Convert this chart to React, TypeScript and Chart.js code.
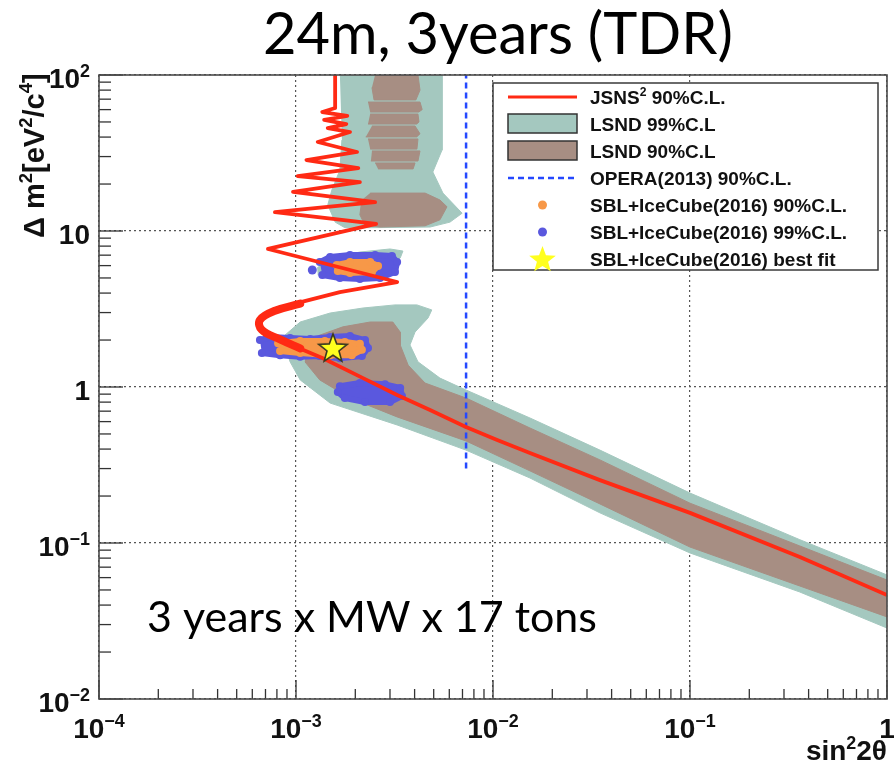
import { useEffect, useRef } from 'react';
import { Chart, registerables } from 'chart.js';

Chart.register(...registerables);

type Pt = [number, number];

// ---------- text ----------
const TITLE = '24m, 3years (TDR)';
const ANNOTATION = '3 years x MW x 17 tons';
const X_AXIS_TITLE = 'sin^{2}2θ';
const Y_AXIS_TITLE = 'Δ m^{2}[eV^{2}/c^{4}]';
const LEGEND_LABELS = [
  'JSNS^{2} 90%C.L.',
  'LSND 99%C.L',
  'LSND 90%C.L',
  'OPERA(2013) 90%C.L.',
  'SBL+IceCube(2016) 90%C.L.',
  'SBL+IceCube(2016) 99%C.L.',
  'SBL+IceCube(2016) best fit',
];

// ---------- axes ----------
const X_RANGE = [1e-4, 1];
const Y_RANGE = [1e-2, 1e2];
const X_DECADES = [1e-4, 1e-3, 1e-2, 1e-1, 1];
const Y_DECADES = [1e-2, 1e-1, 1, 10, 100];
const X_TICK_LABELS = ['10^{−4}', '10^{−3}', '10^{−2}', '10^{−1}', '1'];
const Y_TICK_LABELS = ['10^{−2}', '10^{−1}', '1', '10', '10^{2}'];
const MINOR_MULTIPLIERS = [2, 3, 4, 5, 6, 7, 8, 9];

// ---------- data: [sin^2 2θ, Δm^2] ----------
const JSNS2_90CL: Pt[] = [
  [1.58e-3, 100], [1.58e-3, 61.4], [1.36e-3, 57.9], [1.82e-3, 54.6], [1.39e-3, 51.5],
  [1.8e-3, 48.5], [1.45e-3, 45.7], [1.88e-3, 43.1], [1.29e-3, 37.2], [2.04e-3, 32.1],
  [1.13e-3, 28.5], [2.07e-3, 25.3], [1.02e-3, 22.5], [2.11e-3, 20.6], [9.66e-4, 17.8],
  [2.52e-3, 15.3], [7.82e-4, 13.2], [2.55e-3, 11.1], [7.21e-4, 7.67], [3.26e-3, 4.71],
  [1.67e-3, 4.06], [1.01e-3, 3.45], [7.38e-4, 3.03], [6.41e-4, 2.69], [6.56e-4, 2.32],
  [7.82e-4, 2.06], [1.01e-3, 1.8], [1.37e-3, 1.53], [2.19e-3, 1.14], [3.26e-3, 0.889],
  [4.79e-3, 0.712], [7.29e-3, 0.554], [1.05e-2, 0.457], [1.54e-2, 0.377], [3.49e-2, 0.253],
  [0.1, 0.156], [0.361, 0.0812], [1.0, 0.0464],
];
const JSNS2_BEND: Pt[] = [
  [1.05e-3, 3.42], [7.82e-4, 3.08], [6.56e-4, 2.69], [6.71e-4, 2.32], [8.3e-4, 2.02], [1.05e-3, 1.77],
];

const LSND99_UPPER: Pt[] = [
  [1.67e-3, 100], [5.51e-3, 100], [5.51e-3, 33.0], [4.95e-3, 23.9], [5.57e-3, 17.5],
  [6.97e-3, 13.0], [6.05e-3, 11.4], [4.79e-3, 10.6], [2.43e-3, 10.5], [1.77e-3, 10.5],
  [1.58e-3, 11.4], [1.45e-3, 14.7], [1.52e-3, 18.3], [1.67e-3, 24.6], [1.71e-3, 38.3],
];
const LSND99_MIDDLE: Pt[] = [
  [1.28e-3, 5.79], [1.49e-3, 6.71], [2.11e-3, 7.33], [3.0e-3, 7.67], [3.49e-3, 7.44],
  [3.38e-3, 6.71], [2.83e-3, 5.97], [2.11e-3, 5.38], [1.58e-3, 5.07], [1.29e-3, 5.22],
];
const LSND99_LOWER: Pt[] = [
  [8.79e-4, 2.15], [1.05e-3, 2.61], [1.49e-3, 2.98], [2.19e-3, 3.21], [3.18e-3, 3.36],
  [4.11e-3, 3.36], [4.89e-3, 3.12], [4.68e-3, 2.77], [4.02e-3, 2.25], [3.79e-3, 1.86],
  [4.16e-3, 1.45], [5.38e-3, 1.14], [7.29e-3, 0.957], [1.54e-2, 0.633], [3.49e-2, 0.394],
  [0.1, 0.209], [0.361, 0.105], [1.0, 0.0624], [1.0, 0.0285], [0.361, 0.0485],
  [0.1, 0.0863], [3.49e-2, 0.156], [1.54e-2, 0.261], [7.29e-3, 0.394], [3.26e-3, 0.571],
  [1.49e-3, 0.789], [1.05e-3, 1.11], [9.33e-4, 1.45], [8.79e-4, 1.86],
];

const LSND90_UPPER_STRIPES: Pt[][] = [
  [[2.52e-3, 100], [4.16e-3, 100], [4.26e-3, 80], [4.06e-3, 69.2], [2.49e-3, 69.2], [2.43e-3, 83]],
  [[2.32e-3, 67.1], [4.26e-3, 67.1], [4.37e-3, 60], [4.2e-3, 57.9], [2.38e-3, 57.9]],
  [[2.38e-3, 56.2], [4.16e-3, 56.2], [4.21e-3, 50], [4.1e-3, 48.5], [2.32e-3, 48.5]],
  [[2.43e-3, 47.1], [4.02e-3, 47.1], [4.26e-3, 42], [4.1e-3, 40.1], [2.26e-3, 40.1]],
  [[2.32e-3, 38.9], [4.16e-3, 38.9], [4.11e-3, 33.5], [2.38e-3, 33.5]],
  [[2.43e-3, 32.6], [4.26e-3, 32.6], [4.16e-3, 28.1], [2.4e-3, 28.1]],
  [[2.52e-3, 27.3], [4.02e-3, 27.3], [3.93e-3, 25.0], [2.61e-3, 25.0]],
];
const LSND90_UPPER_BLOB: Pt[] = [
  [2.38e-3, 17.5], [4.52e-3, 17.5], [5.38e-3, 15.8], [5.84e-3, 14.3], [5.38e-3, 11.8],
  [4.52e-3, 10.8], [2.67e-3, 10.6], [2.24e-3, 10.9], [2.11e-3, 12.7], [2.16e-3, 15.8],
];
const LSND90_LOWER: Pt[] = [
  [1.11e-3, 1.86], [1.32e-3, 2.15], [1.73e-3, 2.43], [2.38e-3, 2.61], [3.1e-3, 2.61],
  [3.38e-3, 2.25], [3.38e-3, 1.86], [3.71e-3, 1.38], [4.52e-3, 1.06], [7.29e-3, 0.85],
  [1.54e-2, 0.546], [3.49e-2, 0.341], [0.1, 0.18], [0.361, 0.0957], [1.0, 0.0579],
  [1.0, 0.0336], [0.361, 0.053], [0.1, 0.0942], [3.49e-2, 0.178], [1.54e-2, 0.29],
  [7.29e-3, 0.451], [3.26e-3, 0.643], [1.88e-3, 0.85], [1.32e-3, 1.11], [1.11e-3, 1.45],
];

const OPERA_2013: Pt[] = [[7.3e-3, 0.3], [7.3e-3, 100]];

const SBL99_MIDDLE: Pt[] = [
  [1.32e-3, 6.32], [1.49e-3, 6.81], [1.88e-3, 7.01], [2.52e-3, 7.01], [3.07e-3, 6.91],
  [3.26e-3, 6.32], [3.18e-3, 5.46], [2.67e-3, 5.0], [2.11e-3, 4.92], [1.67e-3, 5.0], [1.36e-3, 5.22],
];
const SBL99_ISOLATED: Pt[] = [[1.21e-3, 5.62]];
const SBL99_LOWER: Pt[] = [
  [6.56e-4, 2.0], [7.38e-4, 2.09], [9.33e-4, 2.06], [1.18e-3, 2.03], [1.49e-3, 2.09],
  [1.88e-3, 2.12], [2.24e-3, 2.0], [2.32e-3, 1.78], [2.16e-3, 1.58], [1.67e-3, 1.53],
  [1.32e-3, 1.58], [1.05e-3, 1.56], [8.3e-4, 1.6], [6.71e-4, 1.65],
];
const SBL99_UNIT: Pt[] = [
  [1.67e-3, 1.01], [2.11e-3, 1.06], [2.83e-3, 1.04], [3.38e-3, 0.986], [3.45e-3, 0.876],
  [3.0e-3, 0.801], [2.24e-3, 0.801], [1.77e-3, 0.85], [1.63e-3, 0.929],
];
const SBL90_MIDDLE: Pt[] = [
  [1.61e-3, 6.05], [1.88e-3, 6.32], [2.38e-3, 6.32], [2.61e-3, 5.97], [2.43e-3, 5.46],
  [1.88e-3, 5.38], [1.63e-3, 5.54],
];
const SBL90_LOWER: Pt[] = [
  [8.11e-4, 1.91], [1.05e-3, 1.97], [1.4e-3, 1.97], [1.77e-3, 1.94], [2.11e-3, 1.89],
  [2.16e-3, 1.73], [1.92e-3, 1.6], [1.49e-3, 1.6], [1.05e-3, 1.65], [8.3e-4, 1.7],
];
const BEST_FIT: Pt[] = [[1.54e-3, 1.78]];

// ---------- styles ----------
const RED = '#ff2a14';
const GREEN = '#a4c8bf';
const BROWN = '#a78e83';
const BLUE_DOT = '#5a58de';
const ORANGE_DOT = '#f79848';
const OPERA_BLUE = '#2448ff';
const STAR_YELLOW = '#ffff1e';
const TICK_FONT = '"Liberation Sans", Arial, Helvetica, sans-serif';
const SLIDE_FONT = 'Lato, "Open Sans", sans-serif';

const toXY = (pts: Pt[]) => pts.map(([x, y]) => ({ x, y }));

function parseParts(s: string): [string, boolean][] {
  const out: [string, boolean][] = [];
  const re = /\^\{([^}]*)\}|\^(.)|([^^]+)/g;
  let m: RegExpExecArray | null;
  while ((m = re.exec(s))) {
    if (m[1] !== undefined) out.push([m[1], true]);
    else if (m[2] !== undefined) out.push([m[2], true]);
    else out.push([m[3], false]);
  }
  return out;
}

function partsWidth(ctx: CanvasRenderingContext2D, s: string, size: number, weight = 'bold') {
  let w = 0;
  for (const [t, sup] of parseParts(s)) {
    ctx.font = `${weight} ${sup ? size * 0.64 : size}px ${TICK_FONT}`;
    w += ctx.measureText(t).width;
  }
  return w;
}

function drawParts(ctx: CanvasRenderingContext2D, s: string, x: number, y: number, size: number, weight = 'bold') {
  let cx = x;
  ctx.textAlign = 'left';
  ctx.textBaseline = 'alphabetic';
  for (const [t, sup] of parseParts(s)) {
    ctx.font = `${weight} ${sup ? size * 0.64 : size}px ${TICK_FONT}`;
    ctx.fillText(t, cx, sup ? y - size * 0.4 : y);
    cx += ctx.measureText(t).width;
  }
}

function fitText(ctx: CanvasRenderingContext2D, text: string, x0: number, x1: number, baseline: number) {
  ctx.font = `normal 100px ${SLIDE_FONT}`;
  const w = ctx.measureText(text).width;
  const size = (100 * (x1 - x0)) / w;
  ctx.font = `normal ${size}px ${SLIDE_FONT}`;
  ctx.textAlign = 'left';
  ctx.textBaseline = 'alphabetic';
  ctx.fillStyle = '#000';
  ctx.fillText(text, x0, baseline);
}

function starPath(ctx: CanvasRenderingContext2D, cx: number, cy: number, r: number) {
  ctx.beginPath();
  for (let i = 0; i < 10; i++) {
    const a = -Math.PI / 2 + (i * Math.PI) / 5;
    const rr = i % 2 ? r * 0.42 : r;
    const px = cx + rr * Math.cos(a);
    const py = cy + rr * Math.sin(a);
    if (i === 0) ctx.moveTo(px, py);
    else ctx.lineTo(px, py);
  }
  ctx.closePath();
}

function makeStarCanvas(r: number) {
  const c = document.createElement('canvas');
  const s = Math.ceil(2 * r + 4);
  c.width = s;
  c.height = s;
  const g = c.getContext('2d')!;
  starPath(g, s / 2, s / 2 + 1, r);
  g.fillStyle = STAR_YELLOW;
  g.fill();
  g.strokeStyle = '#3a3a20';
  g.lineWidth = 1.6;
  g.stroke();
  return c;
}

const decorPlugin = {
  id: 'rootDecor',
  afterDatasetsDraw(chart: any) {
    const { ctx, chartArea: a, scales } = chart;
    const xs = scales.x;
    const ys = scales.y;
    ctx.save();
    ctx.strokeStyle = '#333';
    ctx.lineWidth = 1.3;
    const seg = (x0: number, y0: number, x1: number, y1: number) => {
      ctx.beginPath();
      ctx.moveTo(x0, y0);
      ctx.lineTo(x1, y1);
      ctx.stroke();
    };
    X_DECADES.forEach((d) => {
      const px = xs.getPixelForValue(d);
      seg(px, a.bottom, px, a.bottom - 19);
      MINOR_MULTIPLIERS.forEach((m) => {
        const v = d * m;
        if (v < X_RANGE[1]) {
          const p = xs.getPixelForValue(v);
          seg(p, a.bottom, p, a.bottom - 10);
        }
      });
    });
    Y_DECADES.forEach((d) => {
      const py = ys.getPixelForValue(d);
      seg(a.left, py, a.left + 24, py);
      MINOR_MULTIPLIERS.forEach((m) => {
        const v = d * m;
        if (v < Y_RANGE[1]) {
          const p = ys.getPixelForValue(v);
          seg(a.left, p, a.left + 12, p);
        }
      });
    });
    ctx.strokeStyle = '#4a4a4a';
    ctx.lineWidth = 1.6;
    ctx.strokeRect(a.left, a.top, a.right - a.left, a.bottom - a.top);
    ctx.restore();
  },
  afterDraw(chart: any) {
    const { ctx, chartArea: a, scales } = chart;
    const xs = scales.x;
    const ys = scales.y;
    ctx.save();
    ctx.fillStyle = '#111';
    const size = 28;
    // x tick labels
    X_DECADES.forEach((d, i) => {
      const px = xs.getPixelForValue(d);
      const lab = X_TICK_LABELS[i];
      const w = partsWidth(ctx, lab, size);
      drawParts(ctx, lab, px - w / 2, a.bottom + 39, size);
    });
    // y tick labels
    Y_DECADES.forEach((d, i) => {
      const py = ys.getPixelForValue(d);
      const lab = Y_TICK_LABELS[i];
      const w = partsWidth(ctx, lab, size);
      drawParts(ctx, lab, a.left - 9 - w, py + 13, size);
    });
    // axis titles
    const xw = partsWidth(ctx, X_AXIS_TITLE, 28);
    drawParts(ctx, X_AXIS_TITLE, a.right - xw, a.bottom + 61, 28);
    ctx.save();
    ctx.translate(44, a.top + 163);
    ctx.rotate(-Math.PI / 2);
    drawParts(ctx, Y_AXIS_TITLE, 0, 0, 29);
    ctx.restore();

    // legend
    const L = { left: a.right - 394, top: a.top + 8, right: a.right - 9, bottom: a.top + 195 };
    ctx.fillStyle = '#fff';
    ctx.fillRect(L.left, L.top, L.right - L.left, L.bottom - L.top);
    ctx.strokeStyle = '#3a3a3a';
    ctx.lineWidth = 1.5;
    ctx.strokeRect(L.left, L.top, L.right - L.left, L.bottom - L.top);
    const sx0 = L.left + 15;
    const sx1 = L.left + 84;
    const scx = (sx0 + sx1) / 2;
    LEGEND_LABELS.forEach((lab, i) => {
      const cy = L.top + 14 + i * 27;
      if (i === 0) {
        ctx.strokeStyle = RED;
        ctx.lineWidth = 3;
        ctx.beginPath();
        ctx.moveTo(sx0, cy);
        ctx.lineTo(sx1, cy);
        ctx.stroke();
      } else if (i === 1 || i === 2) {
        ctx.fillStyle = i === 1 ? GREEN : BROWN;
        ctx.fillRect(sx0, cy - 10, sx1 - sx0, 19);
        ctx.strokeStyle = '#333';
        ctx.lineWidth = 1.5;
        ctx.strokeRect(sx0, cy - 10, sx1 - sx0, 19);
      } else if (i === 3) {
        ctx.strokeStyle = OPERA_BLUE;
        ctx.lineWidth = 2.5;
        ctx.setLineDash([6, 4]);
        ctx.beginPath();
        ctx.moveTo(sx0, cy);
        ctx.lineTo(sx1, cy);
        ctx.stroke();
        ctx.setLineDash([]);
      } else if (i === 4 || i === 5) {
        ctx.fillStyle = i === 4 ? ORANGE_DOT : BLUE_DOT;
        ctx.beginPath();
        ctx.arc(scx, cy, 4.5, 0, Math.PI * 2);
        ctx.fill();
      } else {
        starPath(ctx, scx, cy + 1, 14);
        ctx.fillStyle = STAR_YELLOW;
        ctx.fill();
      }
      ctx.fillStyle = '#111';
      drawParts(ctx, lab, L.left + 97, cy + 7, 19);
    });

    // slide texts
    fitText(ctx, TITLE, 263, 733, 54);
    fitText(ctx, ANNOTATION, 147, 597, 632);
    ctx.restore();
  },
};

export default function App() {
  const ref = useRef<HTMLCanvasElement>(null);

  useEffect(() => {
    document.body.style.margin = '0';
    let chart: Chart | null = null;
    let cancelled = false;
    const fonts = (document as any).fonts;
    const ready = fonts
      ? Promise.all([
          fonts.load(`normal 48px Lato`),
          fonts.load(`bold 20px "Liberation Sans"`),
        ]).catch(() => null)
      : Promise.resolve(null);

    ready.then(() => {
      if (cancelled || !ref.current) return;
      const star = makeStarCanvas(15);
      const poly = (label: string, pts: Pt[], color: string, order: number, bw = 1) => ({
        type: 'line' as const,
        label,
        data: toXY(pts),
        backgroundColor: color,
        borderColor: color,
        borderWidth: bw,
        borderJoinStyle: 'round' as const,
        pointRadius: 0,
        fill: 'shape' as const,
        tension: 0,
        order,
      });
      const blob = (label: string, pts: Pt[], color: string, order: number) => ({
        ...poly(label, pts, color, order, 6),
        pointRadius: 4,
        pointBackgroundColor: color,
        pointBorderWidth: 0,
      });

      const datasets: any[] = [
        {
          type: 'line',
          label: 'SBL+IceCube(2016) best fit',
          data: toXY(BEST_FIT),
          showLine: false,
          pointStyle: star,
          pointRadius: 15,
          order: -2,
        },
        {
          type: 'line',
          label: 'JSNS2 90%C.L.',
          data: toXY(JSNS2_90CL),
          borderColor: RED,
          borderWidth: 3.8,
          borderJoinStyle: 'round',
          pointRadius: 0,
          fill: false,
          tension: 0,
          order: 0,
        },
        {
          type: 'line',
          label: 'JSNS2 bend',
          data: toXY(JSNS2_BEND),
          borderColor: RED,
          borderWidth: 8,
          borderJoinStyle: 'round',
          borderCapStyle: 'round',
          pointRadius: 0,
          fill: false,
          tension: 0.4,
          order: 0,
        },
        {
          type: 'line',
          label: 'OPERA(2013) 90%C.L.',
          data: toXY(OPERA_2013),
          borderColor: OPERA_BLUE,
          borderWidth: 2.5,
          borderDash: [6, 4],
          pointRadius: 0,
          fill: false,
          order: 1,
        },
        blob('SBL+IceCube(2016) 90%C.L.', SBL90_MIDDLE, ORANGE_DOT, 2),
        blob('SBL+IceCube(2016) 90%C.L. (2)', SBL90_LOWER, ORANGE_DOT, 2),
        blob('SBL+IceCube(2016) 99%C.L.', SBL99_MIDDLE, BLUE_DOT, 3),
        blob('SBL+IceCube(2016) 99%C.L. (2)', SBL99_LOWER, BLUE_DOT, 3),
        blob('SBL+IceCube(2016) 99%C.L. (3)', SBL99_UNIT, BLUE_DOT, 3),
        {
          type: 'line',
          label: 'SBL+IceCube(2016) 99%C.L. (4)',
          data: toXY(SBL99_ISOLATED),
          showLine: false,
          pointRadius: 4.5,
          pointBackgroundColor: BLUE_DOT,
          pointBorderWidth: 0,
          order: 3,
        },
        poly('LSND 90%C.L', LSND90_LOWER, BROWN, 4),
        poly('LSND 90%C.L (2)', LSND90_UPPER_BLOB, BROWN, 4),
        ...LSND90_UPPER_STRIPES.map((s, i) => poly(`LSND 90%C.L stripe ${i}`, s, BROWN, 4)),
        poly('LSND 99%C.L', LSND99_LOWER, GREEN, 5),
        poly('LSND 99%C.L (2)', LSND99_MIDDLE, GREEN, 5),
        poly('LSND 99%C.L (3)', LSND99_UPPER, GREEN, 5),
      ];

      const isDecade = (v: number) => Math.abs(Math.log10(v) - Math.round(Math.log10(v))) < 1e-6;

      chart = new Chart(ref.current, {
        type: 'line',
        data: { datasets },
        options: {
          animation: false,
          responsive: false,
          events: [],
          layout: { autoPadding: false, padding: { left: 99, right: 7, top: 75, bottom: 68 } },
          plugins: {
            legend: { display: false },
            tooltip: { enabled: false },
            title: { display: false },
          },
          scales: {
            x: {
              type: 'logarithmic',
              min: X_RANGE[0],
              max: X_RANGE[1],
              afterBuildTicks: (s: any) => {
                s.ticks = X_DECADES.map((value) => ({ value }));
              },
              afterFit: (s: any) => {
                s.height = 0;
              },
              ticks: { display: false },
              grid: {
                drawTicks: false,
                lineWidth: 1.2,
                color: (c: any) => (c.tick && isDecade(c.tick.value) ? '#555' : 'rgba(0,0,0,0)'),
              },
              border: { display: false, dash: [2, 3] },
            },
            y: {
              type: 'logarithmic',
              min: Y_RANGE[0],
              max: Y_RANGE[1],
              afterBuildTicks: (s: any) => {
                s.ticks = Y_DECADES.map((value) => ({ value }));
              },
              afterFit: (s: any) => {
                s.width = 0;
              },
              ticks: { display: false },
              grid: {
                drawTicks: false,
                lineWidth: 1.2,
                color: (c: any) => (c.tick && isDecade(c.tick.value) ? '#555' : 'rgba(0,0,0,0)'),
              },
              border: { display: false, dash: [2, 3] },
            },
          },
        } as any,
        plugins: [decorPlugin],
      });
    });

    return () => {
      cancelled = true;
      if (chart) chart.destroy();
    };
  }, []);

  return (
    <div style={{ position: 'relative', width: 894, height: 767, background: '#fff' }}>
      <canvas ref={ref} width={894} height={767} style={{ display: 'block' }} />
    </div>
  );
}
